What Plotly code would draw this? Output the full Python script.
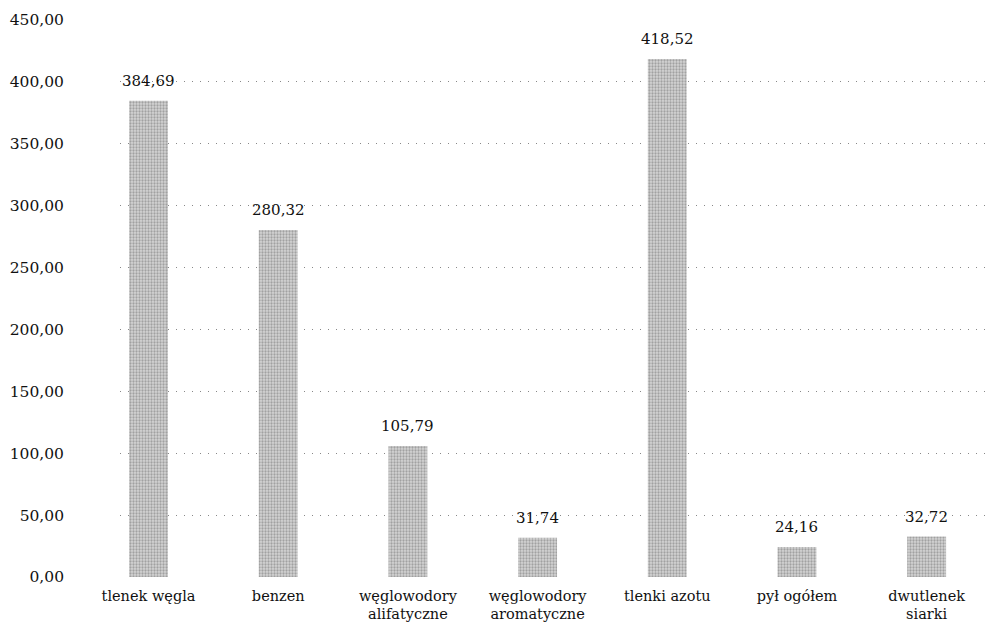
import plotly.graph_objects as go

# Emission totals by pollutant
categories = [
    "tlenek węgla",
    "benzen",
    "węglowodory<br>alifatyczne",
    "węglowodory<br>aromatyczne",
    "tlenki azotu",
    "pył ogółem",
    "dwutlenek<br>siarki",
]
values = [384.69, 280.32, 105.79, 31.74, 418.52, 24.16, 32.72]
y_ticks = [0, 50, 100, 150, 200, 250, 300, 350, 400, 450]

font_family = "DejaVu Serif"
xs = list(range(len(categories)))

fig = go.Figure(
    go.Bar(
        x=xs,
        y=values,
        width=0.3,
        marker=dict(
            color="#bdbdbd",
            line=dict(width=0),
            pattern=dict(shape=".", fgcolor="#6e6e6e", bgcolor="#d4d4d4", size=3, solidity=0.45),
        ),
        hoverinfo="skip",
    )
)

# value labels above each bar, decimal comma
for x, v in zip(xs, values):
    fig.add_annotation(
        x=x, y=v, text=f"{v:.2f}".replace(".", ","),
        showarrow=False, yanchor="bottom", yshift=9,
        font=dict(family=font_family, size=15, color="#111"),
    )

fig.update_layout(
    width=1008,
    height=635,
    margin=dict(l=120, r=23, t=20, b=58),
    paper_bgcolor="white",
    plot_bgcolor="white",
    separators=", ",
    showlegend=False,
    font=dict(family=font_family, size=15, color="#111"),
    xaxis=dict(
        tickmode="array",
        tickvals=xs,
        ticktext=categories,
        range=[-0.22, 6.45],
        showgrid=False,
        showline=False,
        ticks="",
        automargin=False,
        ticklabelstandoff=8,
        tickfont=dict(family=font_family, size=14.5, color="#111"),
    ),
    yaxis=dict(
        range=[0, 450],
        tickvals=y_ticks,
        tickformat=".2f",
        showgrid=True,
        gridcolor="#888888",
        griddash="1px,7px",
        gridwidth=1,
        zeroline=False,
        showline=False,
        ticks="",
        automargin=False,
        ticklabelstandoff=55,
        tickfont=dict(family=font_family, size=15.5, color="#111"),
    ),
)

fig.write_html("out.html")
